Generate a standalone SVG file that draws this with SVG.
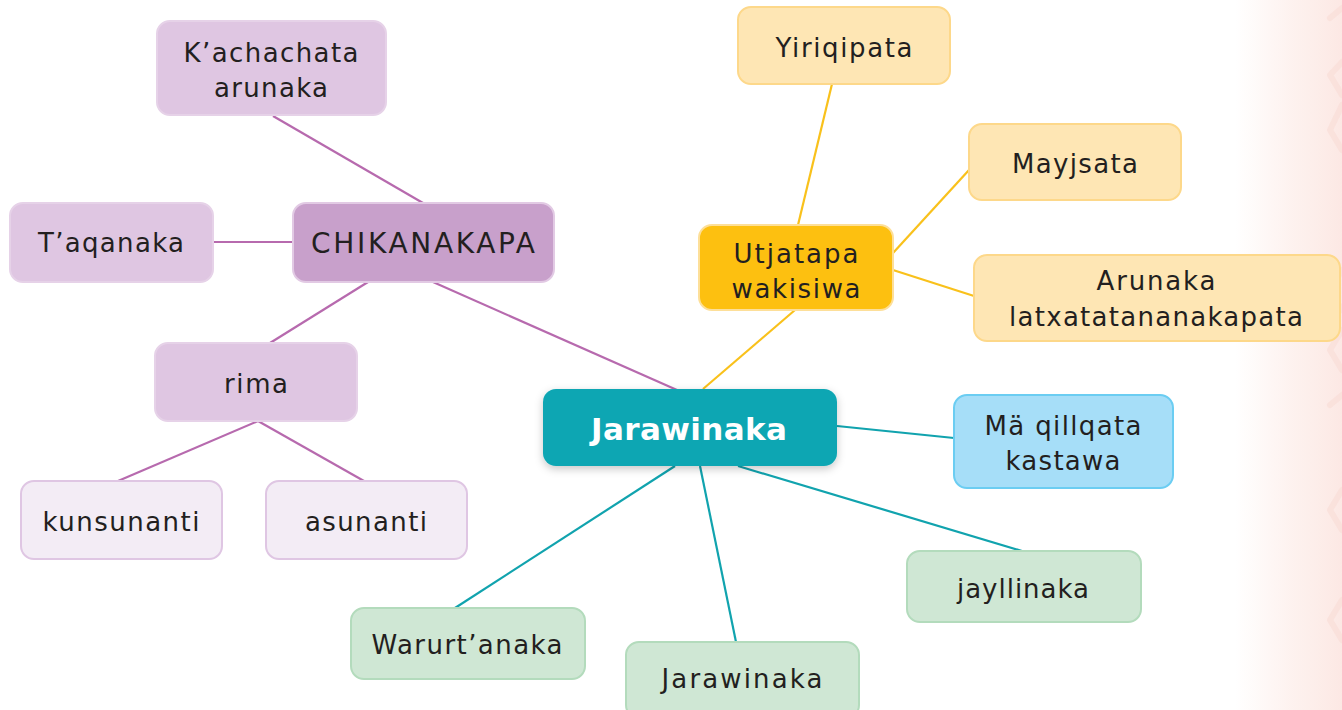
<svg xmlns="http://www.w3.org/2000/svg" width="1342" height="710" viewBox="0 0 1342 710">
<defs>
<linearGradient id="bg" x1="0" y1="0" x2="1" y2="0">
<stop offset="0" stop-color="#fdeeea" stop-opacity="0"/>
<stop offset="0.55" stop-color="#fdeeea" stop-opacity="0.8"/>
<stop offset="1" stop-color="#fce8e4"/>
</linearGradient>
<filter id="sh" x="-20%" y="-30%" width="140%" height="160%">
<feDropShadow dx="0" dy="3" stdDeviation="4" flood-color="#000" flood-opacity="0.22"/>
</filter>
<style>
text{font-family:"DejaVu Sans","Liberation Sans",sans-serif;font-size:26px;fill:#231f20;text-anchor:middle}
.pur{fill:#dfc6e2;stroke:#e6d2e8;stroke-width:2}
.purd{fill:#c8a0cb;stroke:#e2cae4;stroke-width:2}
.purl{fill:#f3ecf5;stroke:#dfc6e3;stroke-width:2}
.yel{fill:#fee6b4;stroke:#fdd88a;stroke-width:2}
.yeld{fill:#fdc010;stroke:#fddf99;stroke-width:2}
.blu{fill:#a6def8;stroke:#6bcdf2;stroke-width:2}
.grn{fill:#cfe7d4;stroke:#b3dbbc;stroke-width:2}
.cen{fill:#0ba6b3}
.lp{stroke:#b76aae;stroke-width:2.2;fill:none}
.ly{stroke:#f9c11b;stroke-width:2.2;fill:none}
.lt{stroke:#11a3ae;stroke-width:2.2;fill:none}
.b{font-weight:bold;fill:#fff;font-size:31px}
.cap{font-size:28px}
.chev{fill:none;stroke:#f8dcd6;stroke-width:6;stroke-linecap:round;stroke-linejoin:round;opacity:0.6}
</style>
</defs>
<rect x="0" y="0" width="1342" height="710" fill="#fff"/>
<rect x="1235" y="0" width="107" height="710" fill="url(#bg)"/>
<path class="chev" d="M1342,8 L1330,18 M1342,62 L1330,75 L1342,95 M1342,105 L1330,130 L1342,150 M1342,270 L1330,290 L1342,310 M1342,330 L1330,350 L1342,370 M1342,395 L1330,405 M1342,490 L1330,510 L1342,530 M1342,600 L1330,620 L1342,640"/>
<g id="connectors">
<line class="lp" x1="273" y1="116" x2="423" y2="203"/>
<line class="lp" x1="213" y1="242" x2="293" y2="242"/>
<line class="lp" x1="368" y1="282" x2="270" y2="343"/>
<line class="lp" x1="433" y1="282" x2="677" y2="390"/>
<line class="lp" x1="258" y1="421" x2="118" y2="481"/>
<line class="lp" x1="258" y1="421" x2="364" y2="481"/>
<line class="ly" x1="832" y1="84" x2="798" y2="225"/>
<line class="ly" x1="969" y1="170" x2="893" y2="253"/>
<line class="ly" x1="974" y1="296" x2="893" y2="270"/>
<line class="ly" x1="795" y1="310" x2="703" y2="389"/>
<line class="lt" x1="837" y1="426" x2="954" y2="438"/>
<line class="lt" x1="738" y1="466" x2="1022" y2="551"/>
<line class="lt" x1="700" y1="466" x2="736" y2="642"/>
<line class="lt" x1="675" y1="466" x2="455" y2="608"/>
</g>
<g id="n-kachachata"><rect class="pur" x="157" y="21" width="229" height="94" rx="13"/><text x="271" y="62" textLength="175" lengthAdjust="spacing">K’achachata</text><text x="271" y="97" textLength="114" lengthAdjust="spacing">arunaka</text></g>
<g id="n-taqanaka"><rect class="pur" x="10" y="203" width="203" height="79" rx="13"/><text x="111" y="252" textLength="146" lengthAdjust="spacing">T’aqanaka</text></g>
<g id="n-chikanakapa"><rect class="purd" x="293" y="203" width="261" height="79" rx="13"/><text class="cap" x="423" y="253" textLength="224" lengthAdjust="spacing">CHIKANAKAPA</text></g>
<g id="n-rima"><rect class="pur" x="155" y="343" width="202" height="78" rx="13"/><text x="256" y="393" textLength="64" lengthAdjust="spacing">rima</text></g>
<g id="n-kunsunanti"><rect class="purl" x="21" y="481" width="201" height="78" rx="13"/><text x="121" y="531" textLength="157" lengthAdjust="spacing">kunsunanti</text></g>
<g id="n-asunanti"><rect class="purl" x="266" y="481" width="201" height="78" rx="13"/><text x="366" y="531" textLength="122" lengthAdjust="spacing">asunanti</text></g>
<g id="n-center"><rect class="cen" x="543" y="389" width="294" height="77" rx="13" filter="url(#sh)"/><text class="b" x="689" y="440" textLength="196" lengthAdjust="spacing">Jarawinaka</text></g>
<g id="n-utjatapa"><rect class="yeld" x="699" y="225" width="194" height="85" rx="13"/><text x="796" y="263" textLength="125" lengthAdjust="spacing">Utjatapa</text><text x="796" y="298" textLength="129" lengthAdjust="spacing">wakisiwa</text></g>
<g id="n-yiriqipata"><rect class="yel" x="738" y="7" width="212" height="77" rx="13"/><text x="844" y="57" textLength="137" lengthAdjust="spacing">Yiriqipata</text></g>
<g id="n-mayjsata"><rect class="yel" x="969" y="124" width="212" height="76" rx="13"/><text x="1075" y="173" textLength="126" lengthAdjust="spacing">Mayjsata</text></g>
<g id="n-arunaka"><rect class="yel" x="974" y="255" width="366" height="86" rx="13"/><text x="1156" y="290" textLength="119" lengthAdjust="spacing">Arunaka</text><text x="1156" y="326" textLength="294" lengthAdjust="spacing">latxatatananakapata</text></g>
<g id="n-maqillqata"><rect class="blu" x="954" y="395" width="219" height="93" rx="13"/><text x="1063" y="435" textLength="157" lengthAdjust="spacing">Mä qillqata</text><text x="1063" y="470" textLength="115" lengthAdjust="spacing">kastawa</text></g>
<g id="n-jayllinaka"><rect class="grn" x="907" y="551" width="234" height="71" rx="13"/><text x="1023" y="598" textLength="132" lengthAdjust="spacing">jayllinaka</text></g>
<g id="n-warurtanaka"><rect class="grn" x="351" y="608" width="234" height="71" rx="13"/><text x="467" y="654" textLength="191" lengthAdjust="spacing">Warurt’anaka</text></g>
<g id="n-jarawinaka2"><rect class="grn" x="626" y="642" width="233" height="76" rx="13"/><text x="742" y="688" textLength="161" lengthAdjust="spacing">Jarawinaka</text></g>
</svg>
